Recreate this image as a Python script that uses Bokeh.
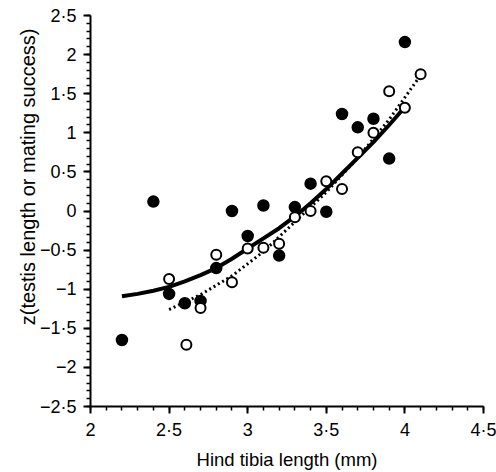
import numpy as np
from bokeh.plotting import figure
from bokeh.models import FixedTicker, Range1d, Title
from bokeh.embed import file_html
from bokeh.resources import INLINE

# Filled circles
filled_x = [2.2, 2.4, 2.5, 2.6, 2.7, 2.8, 2.9, 3.0, 3.1, 3.2, 3.3, 3.4, 3.5, 3.6, 3.7, 3.8, 3.9, 4.0]
filled_y = [-1.65, 0.12, -1.06, -1.18, -1.15, -0.73, 0.0, -0.32, 0.07, -0.57, 0.05, 0.35, -0.01, 1.24, 1.07, 1.18, 0.67, 2.16]

# Open circles
open_x = [2.5, 2.61, 2.7, 2.8, 2.9, 3.0, 3.1, 3.2, 3.3, 3.4, 3.5, 3.6, 3.7, 3.8, 3.9, 4.0, 4.1]
open_y = [-0.87, -1.71, -1.24, -0.56, -0.91, -0.48, -0.47, -0.42, -0.08, 0.0, 0.38, 0.28, 0.75, 1.0, 1.53, 1.32, 1.75]

# Solid fitted curve
solid_x = [2.2, 2.3, 2.4, 2.5, 2.6, 2.7, 2.8, 2.9, 3.0, 3.1, 3.2, 3.3, 3.4, 3.5, 3.6, 3.7, 3.8, 3.9, 4.0]
solid_y = [-1.09, -1.06, -1.02, -0.97, -0.90, -0.82, -0.73, -0.61, -0.48, -0.35, -0.22, -0.07, 0.10, 0.28, 0.48, 0.68, 0.88, 1.10, 1.33]

# Dotted fitted curve
dot_x = [2.5, 2.7, 2.9, 3.1, 3.3, 3.5, 3.7, 3.9, 4.08]
dot_y = [-1.26, -1.07, -0.83, -0.52, -0.14, 0.24, 0.68, 1.17, 1.68]

x_ticks = [2, 2.5, 3, 3.5, 4, 4.5]
x_tick_labels = ["2", "2·5", "3", "3·5", "4", "4·5"]
y_ticks = [-2.5, -2, -1.5, -1, -0.5, 0, 0.5, 1, 1.5, 2, 2.5]
y_tick_labels = ["−2·5", "−2", "−1·5", "−1", "−0·5", "0", "0·5", "1", "1·5", "2", "2·5"]

x_title = "Hind tibia length (mm)"
y_title = "z(testis length or mating success)"

FONT = "Liberation Sans"

p = figure(width=496, height=472, output_backend="svg", toolbar_location=None,
           x_range=Range1d(2, 4.5), y_range=Range1d(-2.5, 2.5),
           min_border_left=90, min_border_right=13, min_border_top=15, min_border_bottom=63)
p.outline_line_color = None
p.xgrid.visible = False
p.ygrid.visible = False
p.background_fill_color = "white"
p.border_fill_color = "white"

p.line(solid_x, solid_y, line_color="black", line_width=4)
p.line(dot_x, dot_y, line_color="black", line_width=3, line_dash="2 3")
p.scatter(filled_x, filled_y, size=11, fill_color="black", line_color="black", line_width=1.5)
p.scatter(open_x, open_y, size=10, fill_color="white", line_color="black", line_width=2)

x_minor = [round(v, 1) for v in np.arange(2.0, 4.51, 0.1)]
y_minor = [round(v, 1) for v in np.arange(-2.5, 2.51, 0.1)]
p.xaxis.ticker = FixedTicker(ticks=x_ticks, minor_ticks=x_minor)
p.yaxis.ticker = FixedTicker(ticks=y_ticks, minor_ticks=y_minor)
p.xaxis.major_label_overrides = {float(t): l for t, l in zip(x_ticks, x_tick_labels)}
p.yaxis.major_label_overrides = {float(t): l for t, l in zip(y_ticks, y_tick_labels)}

for ax in (p.xaxis[0], p.yaxis[0]):
    ax.axis_line_color = "black"
    ax.axis_line_width = 2
    ax.major_tick_line_color = "black"
    ax.major_tick_line_width = 2
    ax.major_tick_in = 0
    ax.major_tick_out = 7
    ax.minor_tick_line_color = "black"
    ax.minor_tick_line_width = 1.5
    ax.minor_tick_in = 0
    ax.minor_tick_out = 4
    ax.major_label_text_font = FONT
    ax.major_label_text_font_size = "18px"
    ax.major_label_text_color = "black"
    ax.axis_label_text_font = FONT
    ax.axis_label_text_font_style = "normal"
    ax.axis_label_text_color = "black"

p.xaxis.axis_label = x_title
p.xaxis.axis_label_text_font_size = "18.5px"
p.xaxis.major_label_standoff = 6
p.xaxis.axis_label_standoff = 6

p.yaxis.major_label_standoff = 7
p.yaxis.axis_label_standoff = 0

# y title as a side title, so it can sit above the frame centre like the original
p.add_layout(Title(text=y_title, align="right", offset=13, vertical_align="bottom",
                   standoff=-5, text_font=FONT, text_font_style="normal",
                   text_font_size="20px", text_color="black"), "left")

open("out.html", "w").write(file_html(p, INLINE))
